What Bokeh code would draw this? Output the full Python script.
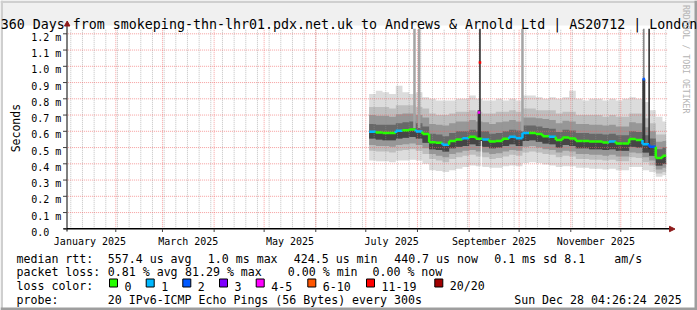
import math
from bokeh.plotting import figure
from bokeh.models import Range1d, Label
from bokeh.embed import file_html
from bokeh.resources import INLINE

# ---------------- data ----------------
TITLE = "360 Days from smokeping-thn-lhr01.pdx.net.uk to Andrews & Arnold Ltd | AS20712 | London"
Y_TITLE = "Seconds"
WATERMARK = "RRDTOOL / TOBI OETIKER"

y_ticks = [0.0, 0.1, 0.2, 0.3, 0.4, 0.5, 0.6, 0.7, 0.8, 0.9, 1.0, 1.1, 1.2]
y_tick_labels = ["0.0", "0.1 m", "0.2 m", "0.3 m", "0.4 m", "0.5 m", "0.6 m",
                 "0.7 m", "0.8 m", "0.9 m", "1.0 m", "1.1 m", "1.2 m"]

# day index: 1 Jan 2025 = 0
month_starts = [31, 59, 90, 120, 151, 181, 212, 243, 273, 304, 334]
x_label_month_start = [0, 59, 120, 181, 243, 304]
x_label_month_len = [31, 31, 31, 31, 30, 30]
x_labels = ["January 2025", "March 2025", "May 2025", "July 2025",
            "September 2025", "November 2025"]
first_sunday = 4
end_day = 361.185          # Sun Dec 28 04:26:24 2025
span_days = 360

bin_day = [183, 187, 191, 195, 199, 203, 207, 211, 215, 219,
           223, 227, 231, 235, 239, 243, 247, 251, 255, 259,
           263, 267, 271, 275, 279, 283, 287, 291, 295, 299,
           303, 307, 311, 315, 319, 323, 327, 331, 335, 339,
           343, 347, 351, 355, 359]
bin_len = 4

median_ms = [0.597, 0.593, 0.590, 0.590, 0.603, 0.607, 0.611, 0.599, 0.583, 0.533,
             0.529, 0.517, 0.541, 0.550, 0.558, 0.566, 0.554, 0.550, 0.537, 0.541,
             0.554, 0.566, 0.558, 0.589, 0.590, 0.583, 0.570, 0.566, 0.546, 0.562,
             0.556, 0.541, 0.541, 0.537, 0.537, 0.531, 0.537, 0.525, 0.525, 0.552,
             0.546, 0.521, 0.505, 0.435, 0.449]
median_loss = [1, 0, 0, 0, 1, 0, 0, 1, 0, 0,
               0, 1, 0, 0, 1, 0, 0, 1, 0, 0,
               0, 1, 1, 1, 0, 0, 0, 1, 0, 0,
               0, 0, 0, 0, 0, 0, 1, 0, 0, 0,
               0, 1, 2, 0, 0]

smoke_top = [0.83, 0.85, 0.84, 0.83, 0.88, 0.84, 0.83, 0.84, 0.81, 0.80,
             0.79, 0.79, 0.79, 0.80, 0.80, 0.82, 0.80, 0.79, 0.79, 0.80,
             0.79, 0.80, 0.79, 0.82, 0.82, 0.81, 0.80, 0.81, 0.80, 0.81,
             0.85, 0.80, 0.79, 0.80, 0.80, 0.79, 0.80, 0.79, 0.80, 0.81,
             0.80, 0.78, 0.73, 0.69, 0.66]
smoke_hi = [0.75, 0.75, 0.75, 0.74, 0.76, 0.76, 0.76, 0.75, 0.74, 0.71,
            0.70, 0.70, 0.71, 0.72, 0.72, 0.73, 0.72, 0.71, 0.71, 0.72,
            0.72, 0.73, 0.72, 0.74, 0.74, 0.73, 0.73, 0.73, 0.71, 0.72,
            0.72, 0.70, 0.70, 0.70, 0.70, 0.69, 0.70, 0.69, 0.69, 0.71,
            0.71, 0.68, 0.65, 0.58, 0.58]
smoke_hi2 = [0.70, 0.695, 0.695, 0.69, 0.705, 0.71, 0.71, 0.70, 0.685, 0.645,
             0.64, 0.635, 0.65, 0.66, 0.66, 0.67, 0.66, 0.655, 0.645, 0.655,
             0.66, 0.67, 0.66, 0.685, 0.685, 0.68, 0.675, 0.67, 0.65, 0.665,
             0.66, 0.645, 0.645, 0.64, 0.64, 0.635, 0.64, 0.63, 0.63, 0.655,
             0.65, 0.625, 0.60, 0.535, 0.54]
smoke_core_hi = [0.645, 0.64, 0.64, 0.64, 0.65, 0.655, 0.66, 0.65, 0.63, 0.585,
                 0.58, 0.57, 0.59, 0.60, 0.60, 0.61, 0.60, 0.60, 0.585, 0.59,
                 0.60, 0.61, 0.605, 0.635, 0.635, 0.63, 0.62, 0.615, 0.595, 0.61,
                 0.605, 0.59, 0.59, 0.585, 0.585, 0.58, 0.585, 0.575, 0.575, 0.60,
                 0.595, 0.575, 0.555, 0.49, 0.50]
smoke_core_lo = [0.555, 0.55, 0.545, 0.545, 0.555, 0.56, 0.565, 0.555, 0.53, 0.49,
                 0.485, 0.475, 0.495, 0.505, 0.51, 0.52, 0.51, 0.505, 0.495, 0.50,
                 0.51, 0.52, 0.51, 0.54, 0.545, 0.535, 0.525, 0.52, 0.50, 0.515,
                 0.51, 0.495, 0.495, 0.49, 0.49, 0.485, 0.49, 0.48, 0.48, 0.505,
                 0.50, 0.47, 0.45, 0.39, 0.40]
smoke_lo2 = [0.515, 0.51, 0.51, 0.505, 0.515, 0.52, 0.525, 0.515, 0.495, 0.46,
             0.45, 0.44, 0.46, 0.47, 0.48, 0.485, 0.475, 0.47, 0.46, 0.465,
             0.475, 0.485, 0.48, 0.505, 0.51, 0.50, 0.49, 0.485, 0.47, 0.48,
             0.475, 0.46, 0.46, 0.455, 0.455, 0.45, 0.455, 0.445, 0.445, 0.47,
             0.465, 0.44, 0.42, 0.365, 0.375]
smoke_lo = [0.48, 0.475, 0.475, 0.47, 0.48, 0.485, 0.49, 0.48, 0.46, 0.43,
            0.42, 0.41, 0.43, 0.44, 0.45, 0.455, 0.445, 0.44, 0.43, 0.435,
            0.445, 0.455, 0.45, 0.47, 0.475, 0.47, 0.46, 0.455, 0.44, 0.45,
            0.445, 0.43, 0.43, 0.425, 0.425, 0.42, 0.425, 0.415, 0.415, 0.44,
            0.435, 0.41, 0.39, 0.34, 0.35]
smoke_bot = [0.42, 0.415, 0.415, 0.41, 0.42, 0.42, 0.425, 0.42, 0.40, 0.36,
             0.355, 0.35, 0.36, 0.37, 0.38, 0.39, 0.385, 0.38, 0.375, 0.375,
             0.385, 0.39, 0.385, 0.405, 0.41, 0.405, 0.395, 0.39, 0.38, 0.385,
             0.385, 0.375, 0.375, 0.37, 0.37, 0.365, 0.37, 0.36, 0.36, 0.38,
             0.38, 0.36, 0.35, 0.32, 0.33]

# outlier columns (values above the chart top are clipped)
light_spike_day = [210.2, 213.0, 275.0]
light_spike_lo = [0.62, 0.62, 0.60]
light_spike_hi = [1.5, 1.5, 1.5]
dark_spike_day = [249.5, 351.0]
dark_spike_lo = [0.55, 0.49]
dark_spike_hi = [1.5, 1.5]
base_spike_day = [249.0, 347.8]
base_spike_lo = [0.55, 0.53]
base_spike_hi = [0.73, 0.92]
thin_spike_day = [347.8]
thin_spike_lo = [0.92]
thin_spike_hi = [1.5]
gap_day = [250.3]
gap_lo = [0.36]
gap_hi = [0.54]
dot_day = [248.9, 249.5, 347.8]
dot_ms = [0.716, 1.023, 0.921]
dot_loss = [4, 6, 2]

loss_labels = ["0", "1", "2", "3", "4-5", "6-10", "11-19", "20/20"]
loss_colors = ["#26FF00", "#00B8FF", "#0059FF", "#7E00FF",
               "#FF00FF", "#FF5500", "#FF0000", "#A10000"]

legend_row1 = ["median rtt:", "557.4 us avg", "1.0 ms max", "424.5 us min",
               "440.7 us now", "0.1 ms sd", "8.1", "am/s"]
legend_row2 = ["packet loss:", "0.81 % avg", "81.29 % max", "0.00 % min", "0.00 % now"]
legend_row3_head = "loss color:"
legend_row4 = ["probe:", "20 IPv6-ICMP Echo Pings (56 Bytes) every 300s",
               "Sun Dec 28 04:26:24 2025"]

# ---------------- layout (pixels) ----------------
W, H = 697, 310
PXD = 600.0 / 360.0
L_PX = 65.6
R_PX = L_PX + 600
Y0_PX = 228.3
TOP_PX = 28.3
PXM = 162.5
S = end_day - span_days
MONO = "DejaVu Sans Mono"

row1_x = [16, 107.3, 207.3, 293.3, 393.7, 493.7, 563.7, 613.7]
row2_x = [16, 107.3, 184.5, 287.3, 372]
row3_box_x = [109, 145.7, 182.3, 219, 255.7, 307.3, 366, 434.3]
row4_x = [16, 107.3, 513.7]
row_base = [258.3, 271.8, 285.5, 299.0]


def X(px):
    return S + (px - L_PX) / PXD


def Y(py):
    return (Y0_PX - py) / PXM


def DX(px):
    return px / PXD


YTOP = Y(TOP_PX)

p = figure(width=W, height=H, x_range=Range1d(X(0), X(W)), y_range=Range1d(Y(H), Y(0)),
           output_backend="svg", toolbar_location=None,
           x_axis_location=None, y_axis_location=None,
           min_border=0, min_border_left=0, min_border_right=0,
           min_border_top=0, min_border_bottom=0,
           background_fill_color="#FFFFFF", border_fill_color="#FFFFFF",
           outline_line_color=None)
p.grid.visible = False


def rect_px(x0, y0, x1, y1, color):
    p.quad(left=[X(x0)], right=[X(x1)], top=[Y(y0)], bottom=[Y(y1)],
           fill_color=color, line_color=None)


# background frame
rect_px(0, 0, W, 25, "#F0F0F0")
rect_px(0, 0, W, 2.5, "#CFCFCF")
rect_px(0, 0, 2.5, H, "#CFCFCF")
rect_px(0, H - 3, W, H, "#9E9E9E")
rect_px(W - 3, 0, W, H, "#9E9E9E")


# smoke bands
def step_band(lo, hi):
    xs, ys = [], []
    for i, d in enumerate(bin_day):
        r = min(d + bin_len, end_day)
        xs += [d, r]
        ys += [hi[i], hi[i]]
    for i in range(len(bin_day) - 1, -1, -1):
        d = bin_day[i]
        r = min(d + bin_len, end_day)
        xs += [r, d]
        ys += [lo[i], lo[i]]
    return xs, ys


for lo, hi, col in [(smoke_bot, smoke_top, "#DCDCDC"),
                    (smoke_lo, smoke_hi, "#BEBEBE"),
                    (smoke_lo2, smoke_hi2, "#979797"),
                    (smoke_core_lo, smoke_core_hi, "#686868"),
                    (smoke_core_lo, median_ms, "#454545")]:
    xs, ys = step_band(lo, hi)
    p.patch(xs, ys, fill_color=col, line_color=None)

# grid
dash = "1 1"
weeks = [d for d in range(first_sunday, int(end_day) + 1, 7) if d > S]
p.segment(x0=weeks, x1=weeks, y0=[0] * len(weeks), y1=[YTOP] * len(weeks),
          line_color="#8F8F8F", line_alpha=0.55, line_width=1, line_dash=dash)
ms_in = [d for d in month_starts if d > S]
p.segment(x0=ms_in, x1=ms_in, y0=[0] * len(ms_in), y1=[YTOP] * len(ms_in),
          line_color="#F06060", line_alpha=0.6, line_width=1, line_dash=dash)
hv = y_ticks[1:]
p.segment(x0=[X(L_PX)] * len(hv), x1=[X(R_PX + 1)] * len(hv), y0=hv, y1=hv,
          line_color="#F06060", line_alpha=0.6, line_width=1, line_dash=dash)


# outlier columns
def cols(days, lo, hi, width_px, color):
    w = DX(width_px) / 2
    p.quad(left=[d - w for d in days], right=[d + w for d in days],
           bottom=lo, top=[min(v, YTOP) for v in hi], fill_color=color, line_color=None)


cols(light_spike_day, light_spike_lo, light_spike_hi, 2.5, "#A4A4A4")
cols(thin_spike_day, thin_spike_lo, thin_spike_hi, 1.6, "#8A8A8A")
cols(gap_day, gap_lo, gap_hi, 1.0, "#FFFFFF")
cols(base_spike_day, base_spike_lo, base_spike_hi, 3.0, "#383838")
cols(dark_spike_day, dark_spike_lo, dark_spike_hi, 1.6, "#303030")

# median line, coloured by loss
x0s, x1s, ys0, ys1, cs = [], [], [], [], []
for i, d in enumerate(bin_day):
    r = min(d + bin_len, end_day)
    x0s.append(d); x1s.append(r); ys0.append(median_ms[i]); ys1.append(median_ms[i])
    cs.append(loss_colors[median_loss[i]])
    if i + 1 < len(bin_day):
        x0s.append(r); x1s.append(r); ys0.append(median_ms[i]); ys1.append(median_ms[i + 1])
        cs.append(loss_colors[median_loss[i + 1]])
p.segment(x0=x0s, x1=x1s, y0=ys0, y1=ys1, line_color=cs, line_width=2.5)

dw = DX(2.6) / 2
p.quad(left=[d - dw for d in dot_day], right=[d + dw for d in dot_day],
       bottom=[v - 1.3 / PXM for v in dot_ms], top=[v + 1.3 / PXM for v in dot_ms],
       fill_color=[loss_colors[k] for k in dot_loss], line_color=None)

# axes
p.segment(x0=[X(63)], x1=[X(669)], y0=[0], y1=[0], line_color="#000000", line_width=1.5)
p.segment(x0=[X(66.5)], x1=[X(66.5)], y0=[Y(231)], y1=[Y(25)], line_color="#000000", line_width=1)
p.segment(x0=[X(62.5)] * len(y_ticks), x1=[X(66.5)] * len(y_ticks), y0=y_ticks, y1=y_ticks,
          line_color="#404040", line_width=1)
p.segment(x0=ms_in, x1=ms_in, y0=[0] * len(ms_in), y1=[Y(231.5)] * len(ms_in),
          line_color="#404040", line_width=1)
arrow = "#8E1B1B"
p.patch([X(669), X(674.5), X(669)], [Y(225.8), Y(228.5), Y(231.2)],
        fill_color=arrow, line_color=arrow)
p.patch([X(64), X(66.7), X(69.4)], [Y(25.5), Y(20.5), Y(25.5)],
        fill_color=arrow, line_color=arrow)


# texts
def label(px, py, text, size, align="left", baseline="alphabetic", color="#000000", angle=0.0):
    p.add_layout(Label(x=X(px), y=Y(py), text=text, text_font=MONO,
                       text_font_size=f"{size}px", text_align=align,
                       text_baseline=baseline, text_color=color, angle=angle))


label(348.5, 23.8, TITLE, 13.3, align="center")
for v, t in zip(y_ticks, y_tick_labels):
    label(30.7, (Y0_PX - v * PXM) + 3.6, t, 10)
for ms0, ml, t in zip(x_label_month_start, x_label_month_len, x_labels):
    cx = L_PX + (ms0 + ml / 2.0 - S) * PXD
    label(cx, 240.7, t, 10, align="center")
label(15.0, 127.6, Y_TITLE, 11.5, align="center", angle=math.pi / 2)
label(685.6, 4.5, WATERMARK, 8.2, color="#B4B4B4", angle=-math.pi / 2)

LF = 11.6
for x, t in zip(row1_x, legend_row1):
    label(x, row_base[0], t, LF)
for x, t in zip(row2_x, legend_row2):
    label(x, row_base[1], t, LF)
label(16, row_base[2], legend_row3_head, LF)
for bx, t, c in zip(row3_box_x, loss_labels, loss_colors):
    p.quad(left=[X(bx)], right=[X(bx + 8)], top=[Y(278.5)], bottom=[Y(286.5)],
           fill_color=c, line_color="#000000", line_width=1)
    label(bx + 15, row_base[2], t, LF)
for x, t in zip(row4_x, legend_row4):
    label(x, row_base[3], t, LF)

open("out.html", "w").write(file_html(p, INLINE))
